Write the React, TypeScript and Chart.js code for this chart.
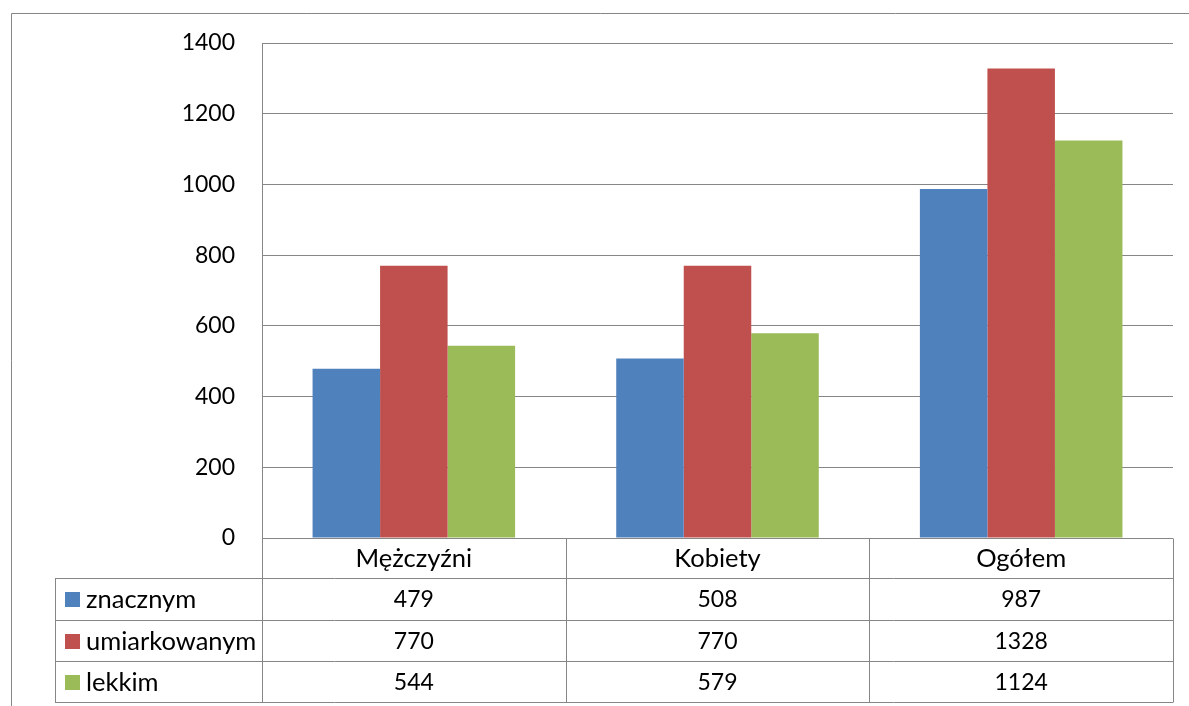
import React, { useEffect, useRef } from "react";
import { Chart, registerables } from "chart.js";

Chart.register(...registerables);

const categories = ["Mężczyźni", "Kobiety", "Ogółem"];
const seriesNames = ["znacznym", "umiarkowanym", "lekkim"];
const znacznym = [479, 508, 987];
const umiarkowanym = [770, 770, 1328];
const lekkim = [544, 579, 1124];
const seriesColors = ["#4F81BD", "#C0504D", "#9BBB59"];
const yMin = 0;
const yMax = 1400;
const yStep = 200;

const FONT = "Lato, 'Open Sans', sans-serif";
const NUM_SIZE = 23;
const WORD_SIZE = 25.5;
const LINE = "#868686";

const tablePlugin = {
  id: "dataTable",
  afterDraw(chart: any) {
    const ctx = chart.ctx;
    const area = chart.chartArea;
    const xs = chart.scales.x;
    const n = categories.length;
    const cw = (area.right - area.left) / n;
    const cols = Array.from({ length: n + 1 }, (_, i) => area.left + i * cw);
    const tableLeft = 55;
    const headerTop = area.bottom;
    const rowLines = [headerTop, 578, 620, 661, 702];
    ctx.save();
    ctx.strokeStyle = LINE;
    ctx.lineWidth = 1;
    const px = (v: number) => Math.round(v) + 0.5;
    ctx.beginPath();
    ctx.rect(11.5, 13.5, 1300, 800);
    rowLines.forEach((y, i) => {
      const x0 = i === 0 ? area.left : tableLeft;
      ctx.moveTo(x0, px(y));
      ctx.lineTo(area.right, px(y));
    });
    ctx.moveTo(px(tableLeft), px(rowLines[1]));
    ctx.lineTo(px(tableLeft), px(rowLines[4]));
    cols.forEach((x) => {
      ctx.moveTo(px(x), px(headerTop));
      ctx.lineTo(px(x), px(rowLines[4]));
    });
    ctx.stroke();

    ctx.fillStyle = "#000";
    ctx.textBaseline = "middle";
    ctx.textAlign = "center";
    ctx.font = `${WORD_SIZE}px ${FONT}`;
    categories.forEach((c, i) => {
      const cx = xs.getPixelForValue(i);
      ctx.fillText(c, cx, (rowLines[0] + rowLines[1]) / 2 + 1);
    });
    const data = [znacznym, umiarkowanym, lekkim];
    data.forEach((vals, r) => {
      const cy = (rowLines[r + 1] + rowLines[r + 2]) / 2 + 1;
      ctx.font = `${NUM_SIZE}px ${FONT}`;
      vals.forEach((v, i) => {
        const cx = xs.getPixelForValue(i);
        ctx.textAlign = "center";
        ctx.fillStyle = "#000";
        ctx.fillText(String(v), cx, cy);
      });
      ctx.fillStyle = seriesColors[r];
      ctx.fillRect(65, Math.round(cy - 8), 15, 15);
      ctx.fillStyle = "#000";
      ctx.textAlign = "left";
      ctx.font = `${WORD_SIZE}px ${FONT}`;
      ctx.fillText(seriesNames[r], 86, cy);
    });
    ctx.restore();
  },
};

export default function App() {
  const ref = useRef<HTMLCanvasElement>(null);
  useEffect(() => {
    if (!ref.current) return;
    const datasets = [znacznym, umiarkowanym, lekkim].map((d, i) => ({
      label: seriesNames[i],
      data: d,
      backgroundColor: seriesColors[i],
      borderWidth: 0,
      categoryPercentage: 0.667,
      barPercentage: 1,
    }));
    const chart = new Chart(ref.current, {
      type: "bar",
      data: { labels: categories, datasets },
      options: {
        responsive: false,
        animation: false,
        layout: { padding: { top: 43, right: 16, left: 0, bottom: 0 } },
        plugins: { legend: { display: false }, tooltip: { enabled: false } },
        scales: {
          x: {
            grid: { display: false },
            ticks: { display: false },
            border: { display: false },
            afterFit: (s: any) => {
              s.height = 168;
            },
          },
          y: {
            min: yMin,
            max: yMax,
            ticks: {
              stepSize: yStep,
              color: "#000",
              font: { family: FONT, size: NUM_SIZE },
              padding: 27,
              callback: (v: any) => String(v),
            },
            grid: { color: LINE, drawTicks: false, lineWidth: 1 },
            border: { color: LINE },
            afterFit: (s: any) => {
              s.width = 262;
            },
          },
        },
      },
      plugins: [tablePlugin],
    });
    return () => chart.destroy();
  }, []);
  return (
    <div style={{ position: "fixed", left: 0, top: 0, width: 1189, height: 706, background: "#fff" }}>
      <canvas ref={ref} width={1189} height={706} style={{ display: "block" }} />
    </div>
  );
}
